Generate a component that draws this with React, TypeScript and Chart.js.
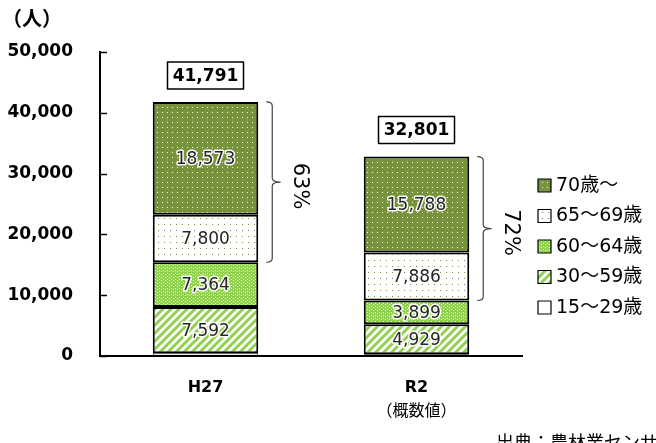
import React, { useEffect, useRef } from 'react';
import { Chart, registerables } from 'chart.js';

Chart.register(...registerables);

const categories = ['H27', 'R2'];
const categoryNotes = ['', '（概数値）'];
const seriesLabels = ['15～29歳', '30～59歳', '60～64歳', '65～69歳', '70歳～'];
const v15to29 = [462, 299];
const v30to59 = [7592, 4929];
const v60to64 = [7364, 3899];
const v65to69 = [7800, 7886];
const v70plus = [18573, 15788];
const totals = [41791, 32801];
const shares = ['63%', '72%'];
const yMax = 50000;
const yStep = 10000;
const unitLabel = '（人）';
const sourceNote = '出典：農林業センサス';

const CJK = '"Noto Sans CJK JP", "Noto Sans", sans-serif';
const LAT = '"DejaVu Sans", "Noto Sans CJK JP", sans-serif';
const DARK = '#77933C';
const LIGHT = '#92D050';

function makePattern(kind: string): CanvasPattern | string {
  const c = document.createElement('canvas');
  const ctx = c.getContext('2d')!;
  if (kind === 'dark') {
    c.width = 5; c.height = 5;
    ctx.fillStyle = DARK; ctx.fillRect(0, 0, 5, 5);
    ctx.fillStyle = 'rgba(255,255,255,0.9)'; ctx.fillRect(2, 2, 1, 1);
  } else if (kind === 'sparse') {
    c.width = 6; c.height = 6;
    ctx.fillStyle = '#ffffff'; ctx.fillRect(0, 0, 6, 6);
    ctx.fillStyle = DARK; ctx.fillRect(2, 2, 1, 1);
  } else if (kind === 'light') {
    c.width = 4; c.height = 3;
    ctx.fillStyle = LIGHT; ctx.fillRect(0, 0, 4, 3);
    ctx.fillStyle = 'rgba(255,255,255,0.85)'; ctx.fillRect(1, 1, 1, 1); ctx.fillRect(3, 0, 1, 1);
  } else if (kind === 'stripe') {
    c.width = 8; c.height = 8;
    ctx.fillStyle = '#ffffff'; ctx.fillRect(0, 0, 8, 8);
    ctx.strokeStyle = LIGHT; ctx.lineWidth = 3;
    ctx.beginPath();
    ctx.moveTo(-2, 10); ctx.lineTo(10, -2);
    ctx.moveTo(-6, 6); ctx.lineTo(6, -6);
    ctx.moveTo(2, 14); ctx.lineTo(14, 2);
    ctx.stroke();
  } else {
    return '#ffffff';
  }
  return ctx.createPattern(c, 'repeat')!;
}

export default function App() {
  const ref = useRef<HTMLCanvasElement>(null);
  useEffect(() => {
    document.body.style.margin = '0';
    const fills = [makePattern('white'), makePattern('stripe'), makePattern('light'), makePattern('sparse'), makePattern('dark')];
    const values = [v15to29, v30to59, v60to64, v65to69, v70plus];

    const overlay = {
      id: 'overlay',
      afterDraw(chart: any) {
        const ctx = chart.ctx as CanvasRenderingContext2D;
        const area = chart.chartArea;
        const y = chart.scales.y;
        const x = chart.scales.x;
        ctx.save();
        // inward y ticks
        ctx.strokeStyle = '#000'; ctx.lineWidth = 1.5;
        for (let v = 0; v <= yMax; v += yStep) {
          const py = Math.round(y.getPixelForValue(v)) + 0.5;
          ctx.beginPath(); ctx.moveTo(area.left, py); ctx.lineTo(area.left + 7, py); ctx.stroke();
        }
        // unit label
        ctx.fillStyle = '#000';
        ctx.font = `bold 20px ${CJK}`;
        ctx.textAlign = 'left'; ctx.textBaseline = 'middle';
        ctx.fillText(unitLabel, 2, 18);
        // category notes
        ctx.font = `16px ${CJK}`;
        ctx.textAlign = 'center';
        categoryNotes.forEach((n, i) => {
          if (n) ctx.fillText(n, x.getPixelForValue(i), 410);
        });
        // data labels
        ctx.font = `17px ${LAT}`;
        ctx.textAlign = 'center'; ctx.textBaseline = 'middle';
        for (let d = 1; d < values.length; d++) {
          const meta = chart.getDatasetMeta(d);
          meta.data.forEach((bar: any, i: number) => {
            const cy = (bar.y + bar.base) / 2 + 1;
            const txt = values[d][i].toLocaleString('en-US');
            ctx.lineJoin = 'round';
            ctx.strokeStyle = 'rgba(255,255,255,0.95)'; ctx.lineWidth = 3;
            ctx.strokeText(txt, bar.x, cy);
            ctx.fillStyle = '#262626';
            ctx.fillText(txt, bar.x, cy);
          });
        }
        // total boxes, braces, shares
        const topMeta = chart.getDatasetMeta(4);
        const m65 = chart.getDatasetMeta(3);
        topMeta.data.forEach((bar: any, i: number) => {
          const txt = totals[i].toLocaleString('en-US');
          ctx.font = `bold 17px ${LAT}`;
          const bw = 76, bh = 27;
          const bx = bar.x - bw / 2, byBottom = bar.y - 13;
          ctx.fillStyle = '#fff';
          ctx.fillRect(bx, byBottom - bh, bw, bh);
          ctx.strokeStyle = '#000'; ctx.lineWidth = 1.5;
          ctx.strokeRect(bx, byBottom - bh, bw, bh);
          ctx.fillStyle = '#000';
          ctx.fillText(txt, bar.x, byBottom - bh / 2 + 1);

          // brace
          const top = bar.y;
          const bottom = m65.data[i].base;
          const mid = (top + bottom) / 2;
          const left = bar.x + bar.width / 2 + 8;
          const r = 4;
          const xv = left + 6;
          ctx.strokeStyle = '#444'; ctx.lineWidth = 1.2;
          ctx.beginPath();
          ctx.moveTo(left, top);
          ctx.quadraticCurveTo(xv, top, xv, top + r);
          ctx.lineTo(xv, mid - r);
          ctx.quadraticCurveTo(xv, mid, xv + 8, mid);
          ctx.quadraticCurveTo(xv, mid, xv, mid + r);
          ctx.lineTo(xv, bottom - r);
          ctx.quadraticCurveTo(xv, bottom, left, bottom);
          ctx.stroke();
          // share
          ctx.save();
          ctx.translate(xv + 27, mid + 4);
          ctx.rotate(Math.PI / 2);
          ctx.font = `21px ${LAT}`;
          ctx.fillStyle = '#000';
          ctx.textAlign = 'center'; ctx.textBaseline = 'middle';
          ctx.fillText(shares[i], 0, 0);
          ctx.restore();
        });
        // legend
        const lx = 538;
        const ly0 = 185;
        const gap = 30.5;
        ctx.font = `19px ${LAT}`;
        ctx.textAlign = 'left'; ctx.textBaseline = 'middle';
        for (let k = 0; k < 5; k++) {
          const d = 4 - k;
          const ly = ly0 + k * gap;
          ctx.fillStyle = fills[d] as any;
          ctx.fillRect(lx, ly - 6, 13, 13);
          ctx.strokeStyle = '#000'; ctx.lineWidth = 1.2;
          ctx.strokeRect(lx, ly - 6, 13, 13);
          ctx.fillStyle = '#000';
          ctx.fillText(seriesLabels[d], lx + 18, ly + 1);
        }
        // source
        ctx.font = `18px ${CJK}`;
        ctx.fillText(sourceNote, 496, 442);
        ctx.restore();
      },
    };

    const chart = new Chart(ref.current!, {
      type: 'bar',
      data: {
        labels: categories,
        datasets: values.map((vals, d) => ({
          label: seriesLabels[d],
          data: vals,
          backgroundColor: fills[d] as any,
          borderColor: '#000',
          borderWidth: d === 0 ? 1 : 2,
          borderSkipped: false,
          barPercentage: 0.5,
          categoryPercentage: 1,
        })),
      },
      options: {
        responsive: false,
        animation: false,
        layout: { padding: { top: 52, right: 134, left: 0, bottom: 0 } },
        plugins: { legend: { display: false }, tooltip: { enabled: false } },
        scales: {
          x: {
            stacked: true,
            grid: { display: false, drawTicks: false },
            border: { display: true, color: '#000', width: 2 },
            ticks: { color: '#000', font: { family: LAT, size: 16, weight: 'bold' }, padding: 22 },
            afterFit: (s: any) => { s.height = 87; },
          },
          y: {
            stacked: true,
            min: 0,
            max: yMax,
            grid: { display: false, drawTicks: false },
            border: { display: true, color: '#000', width: 2 },
            ticks: {
              stepSize: yStep,
              color: '#000',
              padding: 27,
              font: { family: LAT, size: 17, weight: 'bold' },
              callback: (v: any) => Number(v).toLocaleString('en-US'),
            },
            afterFit: (s: any) => { s.width = 100; },
          },
        },
      },
      plugins: [overlay],
    });
    return () => chart.destroy();
  }, []);
  return (
    <div style={{ width: 656, height: 443, background: '#fff' }}>
      <canvas ref={ref} width={656} height={443} />
    </div>
  );
}
